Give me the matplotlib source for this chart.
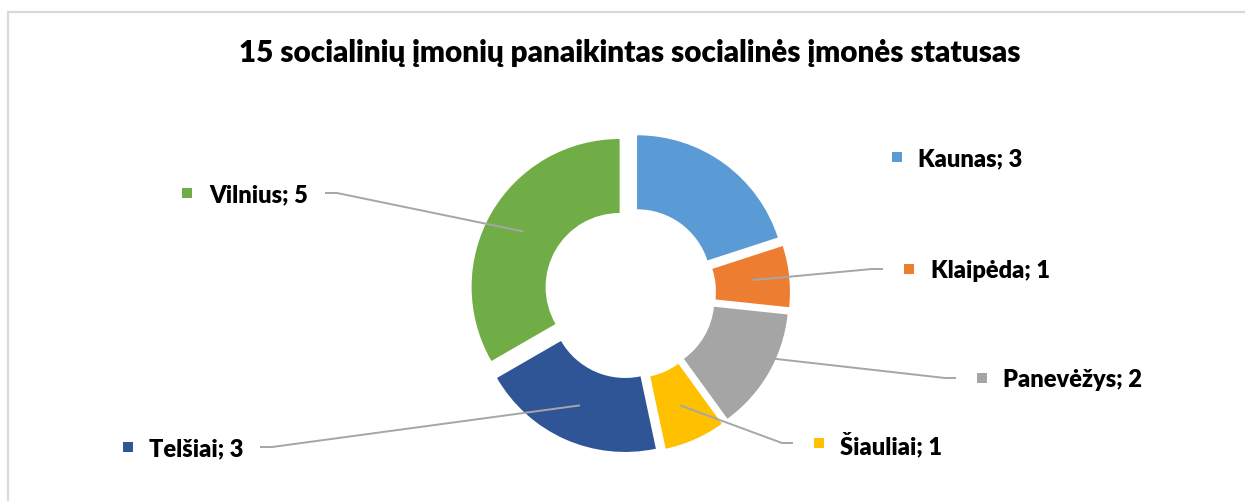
import numpy as np
import matplotlib.pyplot as plt
from matplotlib.patches import Rectangle

# data
cities = ["Kaunas", "Klaipėda", "Panevėžys", "Šiauliai", "Telšiai", "Vilnius"]
counts = [3, 1, 2, 1, 3, 5]
colors = ["#5B9BD5", "#ED7D31", "#A5A5A5", "#FFC000", "#2F5597", "#70AD47"]
title = "15 socialinių įmonių panaikintas socialinės įmonės statusas"

W, H = 1245, 501
plt.rcParams["font.family"] = ["Lato", "DejaVu Sans"]


def fy(y):
    # pixel row (from top) -> data y
    return H - y


def main():
    fig = plt.figure(figsize=(W / 100, H / 100), dpi=100)
    ax = fig.add_axes([0, 0, 1, 1])

    R = 148
    # explode is in data units (pixels here), not a fraction of the radius
    wedges, _ = ax.pie(counts, colors=colors, startangle=90, counterclock=False,
                       radius=R, center=(630, fy(293)),
                       explode=[12] * len(counts),
                       wedgeprops=dict(width=R * 0.5, linewidth=0))
    ax.set_xlim(0, W)
    ax.set_ylim(0, H)
    ax.set_aspect("auto")
    ax.axis("off")

    # chart area border (left and top only visible)
    ax.add_patch(Rectangle((7.5, -10), W + 20, fy(11.5) + 10, fill=False,
                           edgecolor="#D9D9D9", linewidth=1.6))

    ax.text(630, fy(53), title, ha="center", va="center",
            fontsize=21.3, fontweight="heavy", color="#000000")

    # label layout: marker centre, text left, leader text-end (None = no leader)
    label_pos = {
        "Kaunas": (897, 157, 918, None),
        "Klaipėda": (909, 269, 931, (883, 872)),
        "Panevėžys": (982, 378, 1003, (956, 945)),
        "Šiauliai": (819, 443, 840, (793, 782)),
        "Vilnius": (187, 193, 209, (325, 337)),
        "Telšiai": (128, 447, 149, (260, 272)),
    }

    for w, name, n, col in zip(wedges, cities, counts, colors):
        mx, my, tx, leader = label_pos[name]
        ax.add_patch(Rectangle((mx - 5, fy(my) - 5), 10, 10, color=col, lw=0))
        ax.text(tx, fy(my), f"{name}; {n}", ha="left", va="center_baseline",
                fontsize=17, fontweight="heavy", color="#000000")
        if leader is not None:
            ang = np.deg2rad((w.theta1 + w.theta2) / 2)
            rm = w.r - w.width / 2
            px = w.center[0] + rm * np.cos(ang)
            py = w.center[1] + rm * np.sin(ang)
            ax.plot([leader[0], leader[1], px], [fy(my), fy(my), py],
                    color="#A6A6A6", lw=1.4, solid_capstyle="butt")

    fig.savefig("out.png", dpi=100, facecolor="white")


if __name__ == "__main__":
    main()
